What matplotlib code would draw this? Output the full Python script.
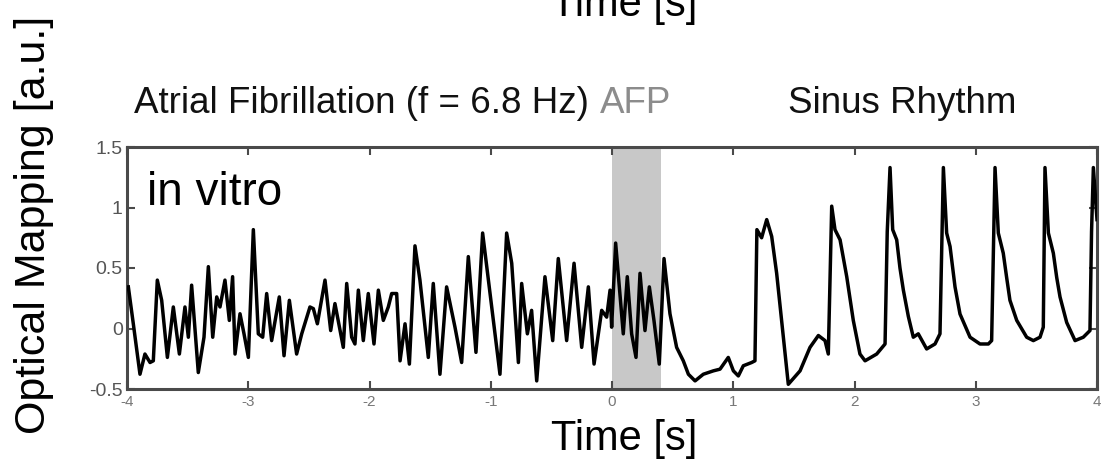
import matplotlib
matplotlib.use("Agg")
import matplotlib.pyplot as plt
import numpy as np

plt.rcParams['font.family'] = ['Liberation Sans', 'DejaVu Sans']

# Optical mapping trace: atrial fibrillation segment (s, a.u.)
af_time = [-3.989, -3.948, -3.893, -3.852, -3.810, -3.783, -3.750, -3.714, -3.667, -3.618,
           -3.568, -3.522, -3.494, -3.467, -3.412, -3.365, -3.329, -3.293, -3.260, -3.233,
           -3.192, -3.156, -3.129, -3.109, -3.068, -3.035, -2.999, -2.958, -2.917, -2.881,
           -2.848, -2.807, -2.744, -2.705, -2.661, -2.601, -2.559, -2.491, -2.463, -2.430,
           -2.367, -2.320, -2.285, -2.216, -2.188, -2.147, -2.120, -2.092, -2.051, -2.010,
           -1.963, -1.927, -1.886, -1.845, -1.817, -1.776, -1.748, -1.707, -1.671, -1.625,
           -1.584, -1.515, -1.474, -1.419, -1.364, -1.295, -1.240, -1.185, -1.122, -1.067,
           -0.992, -0.979, -0.924, -0.869, -0.827, -0.772, -0.745, -0.698, -0.663, -0.621,
           -0.553, -0.489, -0.443, -0.374, -0.313, -0.250, -0.195, -0.148, -0.085, -0.044,
           -0.016, -0.003, 0.030, 0.093, 0.126, 0.162, 0.198, 0.231, 0.272, 0.308,
           0.346, 0.390, 0.429]
af_signal = [0.344, 0.039, -0.378, -0.211, -0.281, -0.267, 0.400, 0.233, -0.239, 0.178,
             -0.211, 0.178, -0.072, 0.358, -0.364, -0.072, 0.511, -0.072, 0.261, 0.178,
             0.400, 0.067, 0.428, -0.211, 0.122, -0.044, -0.239, 0.817, -0.044, -0.072,
             0.289, -0.100, 0.261, -0.225, 0.233, -0.211, -0.044, 0.178, 0.164, 0.039,
             0.400, -0.017, 0.206, -0.156, 0.372, -0.072, -0.128, 0.317, -0.100, 0.289,
             -0.128, 0.317, 0.067, 0.178, 0.289, 0.289, -0.267, 0.039, -0.294, 0.683,
             0.400, -0.239, 0.372, -0.378, 0.344, 0.011, -0.281, 0.594, -0.197, 0.789,
             0.178, 0.067, -0.378, 0.789, 0.539, -0.281, 0.372, -0.044, 0.150, -0.433,
             0.428, -0.100, 0.578, -0.100, 0.539, -0.156, 0.344, -0.294, 0.150, 0.094,
             0.317, 0.011, 0.706, -0.044, 0.428, -0.044, -0.239, 0.456, -0.017, 0.344,
             0.067, -0.294, 0.578]

# Sinus rhythm segment after termination
sr_time = [0.478, 0.533, 0.588, 0.630, 0.685, 0.753, 0.836, 0.891, 0.959, 1.001,
           1.042, 1.083, 1.152, 1.179, 1.195, 1.234, 1.276, 1.317, 1.358, 1.399,
           1.454, 1.551, 1.633, 1.702, 1.757, 1.784, 1.812, 1.839, 1.881, 1.936,
           1.990, 2.045, 2.087, 2.183, 2.252, 2.270, 2.293, 2.315, 2.348, 2.375,
           2.403, 2.444, 2.485, 2.526, 2.595, 2.664, 2.705, 2.733, 2.760, 2.788,
           2.810, 2.829, 2.870, 2.953, 3.035, 3.104, 3.131, 3.159, 3.186, 3.227,
           3.255, 3.282, 3.338, 3.420, 3.475, 3.530, 3.557, 3.571, 3.599, 3.640,
           3.668, 3.695, 3.750, 3.819, 3.887, 3.942, 3.955, 3.970, 4.000]
sr_signal = [0.122, -0.156, -0.267, -0.378, -0.433, -0.378, -0.350, -0.336, -0.239, -0.350,
             -0.392, -0.308, -0.281, -0.267, 0.817, 0.750, 0.900, 0.761, 0.456, 0.067,
             -0.461, -0.350, -0.156, -0.058, -0.100, -0.211, 1.011, 0.817, 0.733, 0.428,
             0.067, -0.211, -0.267, -0.211, -0.128, 0.800, 1.330, 0.817, 0.733, 0.500,
             0.317, 0.100, -0.072, -0.044, -0.169, -0.128, -0.044, 1.330, 0.789, 0.678,
             0.500, 0.344, 0.120, -0.072, -0.128, -0.128, -0.100, 1.330, 0.789, 0.622,
             0.420, 0.233, 0.067, -0.072, -0.100, -0.072, 0.011, 1.330, 0.789, 0.622,
             0.420, 0.261, 0.050, -0.100, -0.072, -0.017, 0.800, 1.330, 0.900]

afp_window = (0.0, 0.4)

x_ticks = [-4, -3, -2, -1, 0, 1, 2, 3, 4]
x_tick_labels = ['-4', '-3', '-2', '-1', '0', '1', '2', '3', '4']
y_ticks = [-0.5, 0, 0.5, 1, 1.5]
y_tick_labels = ['-0.5', '0', '0.5', '1', '1.5']

W, H = 1102, 476
fig = plt.figure(figsize=(W / 100, H / 100), dpi=100)
ax = fig.add_axes([127 / W, 1 - 389 / H, (1097 - 127) / W, (389 - 147) / H])

spine_col = '#4a4a4a'
ax.axvspan(*afp_window, color='#c8c8c8', lw=0, zorder=1)

t = np.concatenate([af_time, sr_time])
s = np.concatenate([af_signal, sr_signal])
ax.plot(t, s, color='black', lw=2.5, solid_joinstyle='round', zorder=3)

ax.set_xlim(-4, 4)
ax.set_ylim(-0.5, 1.5)
ax.set_xticks(x_ticks)
ax.set_xticklabels(x_tick_labels)
ax.set_yticks(y_ticks)
ax.set_yticklabels(y_tick_labels)
ax.tick_params(direction='in', length=6, width=1.5, color=spine_col,
               top=True, right=True)
ax.tick_params(axis='x', labelsize=11, labelcolor='#777777', pad=4)
ax.tick_params(axis='y', labelsize=14, labelcolor='#555555', pad=3)
for sp in ax.spines.values():
    sp.set_color(spine_col)
    sp.set_linewidth(2.2)

ax.text(0.021, 0.76, 'in vitro', transform=ax.transAxes, fontsize=33,
        ha='left', va='baseline', color='black')

# Panel labels above the trace
fig.text(134 / W, 1 - 113 / H, 'Atrial Fibrillation (f = 6.8 Hz)', fontsize=26.5,
         ha='left', va='baseline', color='#111111')
fig.text(600 / W, 1 - 113 / H, 'AFP', fontsize=26.5, ha='left', va='baseline',
         color='#8c8c8c')
fig.text(788 / W, 1 - 113 / H, 'Sinus Rhythm', fontsize=26.5, ha='left',
         va='baseline', color='#111111')

# Axis labels
fig.text(624 / W, 1 - 450 / H, 'Time [s]', fontsize=30, ha='center', va='baseline')
fig.text(624 / W, 1 - 16 / H, 'Time [s]', fontsize=30, ha='center', va='baseline')
fig.text(34 / W, 1 - 225 / H, 'Optical Mapping [a.u.]', fontsize=31, rotation=90,
         ha='center', va='center')

fig.savefig('out.png', dpi=100)
